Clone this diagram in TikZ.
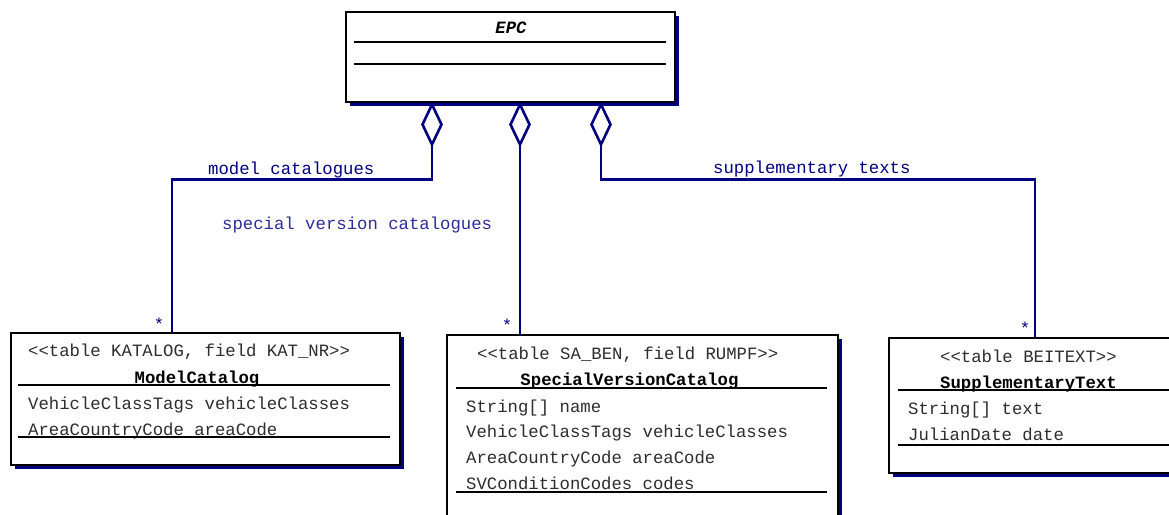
\documentclass[tikz,border=0pt]{standalone}
\usepackage{fontspec}
\newfontfamily\mono{Liberation Mono}
\usetikzlibrary{shapes.geometric,shadows}
\definecolor{navy}{RGB}{0,0,128}
\definecolor{lblue}{RGB}{45,45,155}
\definecolor{txt}{RGB}{45,45,45}
\begin{document}
\begin{tikzpicture}[x=1pt,y=-1pt,
  cls/.style={draw=black, line width=2.4pt, fill=white, inner sep=0pt, outer sep=0pt, anchor=north west,
    drop shadow={shadow xshift=3.5pt, shadow yshift=-3.5pt, fill=navy, opacity=1}},
  sepline/.style={line width=2pt, black},
  conn/.style={draw=navy, line width=2.6pt},
  dia/.style={diamond, draw=navy, line width=2.6pt, fill=white, minimum width=19pt, minimum height=40pt, inner sep=0pt, outer sep=0pt, anchor=north},
  lbl/.style={font=\mono\fontsize{17.3}{20}\selectfont, text=navy, anchor=base west, inner sep=0pt},
  attr/.style={font=\mono\fontsize{17.3}{20}\selectfont, text=txt, anchor=base west, inner sep=0pt},
  cname/.style={font=\mono\bfseries\fontsize{17.3}{20}\selectfont, text=black, anchor=base, inner sep=0pt},
  mult/.style={font=\mono\fontsize{17.3}{20}\selectfont, text=navy, anchor=base, inner sep=0pt}]
\clip (0,0) rectangle (1169,514);
\fill[white] (0,0) rectangle (1169,514);

% EPC
\node[cls, minimum width=329pt, minimum height=90pt] (epc) at (346,12) {};
\node[cname, font=\mono\bfseries\itshape\fontsize{17.3}{20}\selectfont] (epcname) at (511,33) {EPC};
\draw[sepline] (354,42) -- (666,42);
\draw[sepline] (354,64) -- (666,64);

% ModelCatalog
\node[cls, minimum width=389pt, minimum height=132pt] (mc) at (11,333) {};
\node[attr] (mc1) at (28,356) {<<table KATALOG, field KAT\_NR>>};
\node[cname] (mcname) at (197,383) {ModelCatalog};
\draw[sepline] (18,385) -- (390,385);
\node[attr] (mc2) at (28,409) {VehicleClassTags vehicleClasses};
\node[attr] (mc3) at (28,435) {AreaCountryCode areaCode};
\draw[sepline] (18,437) -- (390,437);

% SpecialVersionCatalog
\node[cls, minimum width=391pt, minimum height=200pt] (svc) at (447,335) {};
\node[attr] (svc1) at (477,359) {<<table SA\_BEN, field RUMPF>>};
\node[cname] (svcname) at (629.5,385) {SpecialVersionCatalog};
\draw[sepline] (456,388) -- (827,388);
\node[attr] (svc2) at (466,412) {String[] name};
\node[attr] (svc3) at (466,437) {VehicleClassTags vehicleClasses};
\node[attr] (svc4) at (466,463) {AreaCountryCode areaCode};
\node[attr] (svc5) at (466,489) {SVConditionCodes codes};
\draw[sepline] (456,492) -- (827,492);

% SupplementaryText
\node[cls, minimum width=300pt, minimum height=135pt] (st) at (889,338) {};
\node[attr] (st1) at (940,362) {<<table BEITEXT>>};
\node[cname, anchor=base west] (stname) at (940,388) {SupplementaryText};
\draw[sepline] (898,390) -- (1175,390);
\node[attr] (st2) at (908,414) {String[] text};
\node[attr] (st3) at (908,440) {JulianDate date};
\draw[sepline] (898,445) -- (1175,445);

% aggregation diamonds
\node[dia] (d1) at (432,104.5) {};
\node[dia] (d2) at (520,104.5) {};
\node[dia] (d3) at (601,104.5) {};

\coordinate (j1) at (172,179.5);
\coordinate (j3) at (1035,179.5);
\draw[conn] (d1.south) |- (j1) -- (j1 |- mc.north);
\draw[conn] (d2.south) -- (d2.south |- svc.north);
\draw[conn] (d3.south) |- (j3) -- (j3 |- st.north);

% labels
\node[lbl] (l1) at (208,174) {model catalogues};
\node[lbl, text=lblue] (l2) at (222,229) {special version catalogues};
\node[lbl] (l3) at (713,173) {supplementary texts};

% multiplicities
\node[mult] (m1) at (159,330) {*};
\node[mult] (m2) at (507,331) {*};
\node[mult] (m3) at (1025,334) {*};
\end{tikzpicture}
\end{document}
